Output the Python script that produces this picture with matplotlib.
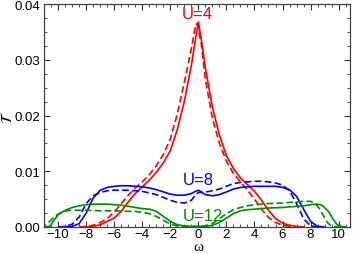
import matplotlib
matplotlib.use('Agg')
import matplotlib.pyplot as plt
from matplotlib.ticker import MultipleLocator, FormatStrFormatter

plt.rcParams['font.family'] = ['Liberation Sans', 'DejaVu Sans']

# U=4 (red)
w_u4 = [-8, -7.5, -7, -6.5, -6, -5.5, -5, -4.5, -4, -3.5, -3, -2.5, -2, -1.5, -1, -0.5, -0.25, 0,
        0.25, 0.5, 1, 1.5, 2, 2.5, 3, 3.5, 4, 4.5, 5, 5.5, 6, 6.5, 7, 7.5]
t_u4 = [0, 0.0001, 0.0004, 0.001, 0.0016, 0.0028, 0.0045, 0.006, 0.0072, 0.0084, 0.0098, 0.0115,
        0.0137, 0.0175, 0.0225, 0.029, 0.033, 0.0368, 0.033, 0.0285, 0.0215, 0.0165, 0.0128,
        0.0105, 0.0088, 0.0076, 0.0064, 0.0048, 0.003, 0.0015, 0.0007, 0.0003, 0.0001, 0]
w_u4d = [-8.5, -8, -7.5, -7, -6.5, -6, -5.5, -5, -4.5, -4, -3.5, -3, -2.5, -2, -1.5, -1, -0.5, -0.2,
         -0.1, 0.2, 0.5, 1, 1.5, 2, 2.5, 3, 3.5, 4, 4.5, 5, 5.5, 6, 6.5, 7]
t_u4d = [0, 0.0001, 0.0003, 0.0008, 0.0015, 0.0027, 0.0042, 0.0057, 0.007, 0.0081, 0.0094, 0.011,
         0.013, 0.0158, 0.0203, 0.026, 0.032, 0.0362, 0.0365, 0.033, 0.0265, 0.0195, 0.015,
         0.0118, 0.0096, 0.0081, 0.0066, 0.005, 0.0032, 0.0017, 0.0008, 0.0003, 0.0001, 0]

# U=8 (blue)
w_u8 = [-9.5, -9, -8.5, -8, -7.5, -7, -6.5, -6, -5.5, -5, -4.5, -4, -3.5, -3, -2.5, -2, -1.5, -1,
        -0.5, -0.2, 0, 0.2, 0.5, 1, 1.5, 2, 2.5, 3, 3.5, 4, 4.5, 5, 5.5, 6, 6.5, 7, 7.5, 8, 8.5, 9]
t_u8 = [0, 0.0001, 0.0006, 0.0025, 0.0052, 0.0066, 0.0071, 0.0073, 0.0074, 0.0074, 0.0073, 0.0072,
        0.007, 0.0067, 0.0063, 0.0059, 0.0057, 0.0057, 0.006, 0.0064, 0.0066, 0.0063, 0.0058,
        0.0056, 0.0058, 0.0063, 0.0068, 0.0071, 0.0072, 0.0073, 0.0073, 0.0073, 0.0073, 0.0071,
        0.0067, 0.0055, 0.0032, 0.001, 0.0001, 0]
w_u8d = [-10, -9.5, -9, -8.5, -8, -7.5, -7, -6.5, -6, -5.5, -5, -4.5, -4, -3.5, -3, -2.5, -2, -1.5,
         -1, -0.5, -0.2, 0, 0.3, 0.8, 1.5, 2, 2.5, 3, 3.5, 4, 4.5, 5, 5.5, 6, 6.5, 7, 7.5, 8, 8.5]
t_u8d = [0, 0.0001, 0.0005, 0.0018, 0.0042, 0.0056, 0.0062, 0.0065, 0.0066, 0.0066, 0.0066, 0.0065,
         0.0064, 0.0061, 0.0058, 0.0053, 0.0048, 0.0044, 0.0043, 0.0048, 0.0058, 0.0062, 0.0062,
         0.0064, 0.0068, 0.0073, 0.0078, 0.008, 0.0081, 0.0082, 0.0082, 0.0081, 0.0079, 0.0075,
         0.0065, 0.0042, 0.0015, 0.0002, 0]

# U=12 (green)
w_u12 = [-11, -10.6, -10.3, -10, -9.5, -9, -8.5, -8, -7.5, -7, -6.5, -6, -5.5, -5, -4.5, -4, -3.5,
         -3, -2.5, -2, -1.5, -1, -0.5, 0, 0.5, 1, 1.5, 2, 2.5, 3, 3.5, 4, 5, 6, 7, 7.5, 8, 8.5,
         8.8, 9, 9.3, 9.6, 9.9, 10.2, 10.5]
t_u12 = [0, 0.0001, 0.0012, 0.0022, 0.003, 0.0035, 0.0038, 0.004, 0.0041, 0.0041, 0.0041, 0.004,
         0.0039, 0.0037, 0.0035, 0.0033, 0.0032, 0.0028, 0.0019, 0.001, 0.0004, 0.0002, 0.0001,
         0.0001, 0.0001, 0.0003, 0.0008, 0.0016, 0.0024, 0.0029, 0.0031, 0.0032, 0.0034, 0.0035,
         0.0037, 0.0038, 0.004, 0.0041, 0.0039, 0.0035, 0.0027, 0.0014, 0.0004, 0.0001, 0]
w_u12d = [-11.3, -11, -10.6, -10.2, -9.8, -9.4, -9, -8, -7, -6, -5, -4.5, -4, -3.5, -3, -2.5, -2,
          -1.5, -1, 0, 0.5, 1, 1.5, 2, 2.5, 3, 3.5, 4, 5, 6, 7, 7.5, 8, 8.3, 8.6, 8.9, 9.2,
          9.5, 10]
t_u12d = [0, 0.0002, 0.001, 0.002, 0.0026, 0.0029, 0.003, 0.003, 0.0029, 0.0029, 0.0028, 0.0028,
          0.0026, 0.0024, 0.0019, 0.0012, 0.0005, 0.0002, 0.0001, 0.0001, 0.0002, 0.0006, 0.0015,
          0.0024, 0.0031, 0.0035, 0.0038, 0.004, 0.0042, 0.0043, 0.0045, 0.0046, 0.0046, 0.0043,
          0.0034, 0.0021, 0.0008, 0.0001, 0]

fig = plt.figure(figsize=(3.53, 2.55), dpi=100)
ax = fig.add_axes([0.125, 0.106, 0.866, 0.874])

dash = (0, (4, 2))
lw = 1.2
ax.plot(w_u4, t_u4, color='#ff0000', lw=lw)
ax.plot(w_u4d, t_u4d, color='#ff0000', lw=lw, linestyle=dash)
ax.plot(w_u8, t_u8, color='#0000ff', lw=lw)
ax.plot(w_u8d, t_u8d, color='#0000ff', lw=lw, linestyle=dash)
ax.plot(w_u12, t_u12, color='#008c00', lw=lw)
ax.plot(w_u12d, t_u12d, color='#008c00', lw=lw, linestyle=dash)

ax.text(-0.1, 0.0384, 'U=4', color='#ff0000', fontsize=12, ha='center', va='center')
ax.text(0.0, 0.0085, 'U=8', color='#0000ff', fontsize=12, ha='center', va='center')
ax.text(0.3, 0.0020, 'U=12', color='#008c00', fontsize=12, ha='center', va='center')

ax.set_xlim(-11, 10.8)
ax.set_ylim(0, 0.04)
ax.xaxis.set_major_locator(MultipleLocator(2))
ax.xaxis.set_minor_locator(MultipleLocator(0.5))
ax.yaxis.set_major_locator(MultipleLocator(0.01))
ax.yaxis.set_minor_locator(MultipleLocator(0.0025))
ax.yaxis.set_major_formatter(FormatStrFormatter('%.2f'))
ax.tick_params(which='both', direction='in', top=True, right=True, labelsize=9.5, colors='#333333',
               labelcolor='black')
ax.tick_params(which='major', length=4, width=0.8)
ax.tick_params(which='minor', length=2, width=0.6)
ax.tick_params(axis='x', which='major', pad=1)
ax.tick_params(axis='y', which='major', pad=2.5)
for s in ax.spines.values():
    s.set_color('#444444')
    s.set_linewidth(0.9)

# axis labels placed by hand, like the reference
fig.text(198 / 353, 1 - 251 / 255, 'ω', fontsize=11, family=['Liberation Serif', 'DejaVu Serif'],
         ha='center', va='baseline')
fig.text(8 / 353, 1 - 117 / 255, r'$\mathcal{T}$', fontsize=11, rotation=90,
         ha='center', va='center')

fig.savefig('out.png', dpi=100)
